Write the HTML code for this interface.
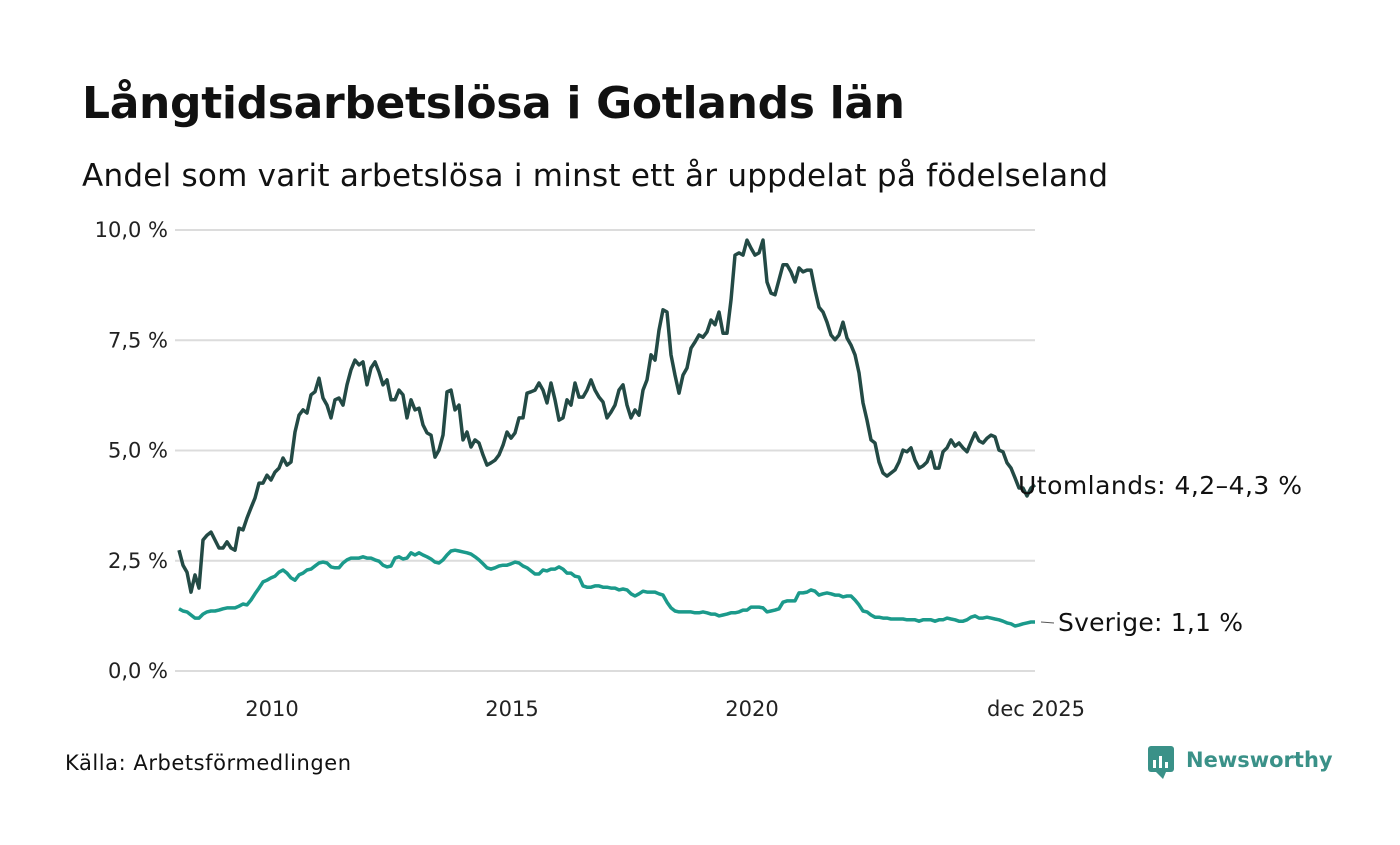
<!DOCTYPE html>
<html><head><meta charset="utf-8"><style>
body{margin:0;background:#fff;font-family:"Liberation Sans","DejaVu Sans",sans-serif;}
svg text{font-family:"DejaVu Sans","Liberation Sans",sans-serif;}
</style></head><body>
<svg id="c" width="1400" height="840" viewBox="0 0 1400 840">
<text x="82" y="118" font-size="44" font-weight="bold" fill="#111" textLength="823">Långtidsarbetslösa i Gotlands län</text>
<text x="82" y="186" font-size="31" fill="#111" textLength="1026">Andel som varit arbetslösa i minst ett år uppdelat på födelseland</text>
<g id="grid"></g>
<g id="series"></g>
<text x="65" y="770" font-size="21" fill="#111" textLength="286">Källa: Arbetsförmedlingen</text>
<g>
<rect x="1148" y="746" width="26" height="26" rx="3" fill="#3a9188"/>
<path d="M1156 772 L1163 779 L1166 772 Z" fill="#3a9188"/>
<rect x="1153" y="760" width="3" height="8" fill="#fff"/><rect x="1159" y="756" width="3" height="12" fill="#fff"/><rect x="1165" y="762" width="3" height="6" fill="#fff"/>
<text x="1186" y="767" font-size="21" font-weight="bold" fill="#3a9188">Newsworthy</text>
</g>
</svg>
<script>
const yTicks=[0,2.5,5,7.5,10];
const yTickLabels=["0,0 %","2,5 %","5,0 %","7,5 %","10,0 %"];
const xTicks=[2010,2015,2020,2025.917];
const xTickLabels=["2010","2015","2020","dec 2025"];
const startYear=2008;
const utomlands=[2.74,2.40,2.24,1.79,2.18,1.88,2.97,3.08,3.15,2.97,2.79,2.79,2.93,2.79,2.74,3.24,3.20,3.47,3.70,3.92,4.26,4.26,4.44,4.33,4.51,4.60,4.83,4.67,4.74,5.42,5.80,5.92,5.85,6.26,6.33,6.64,6.19,6.03,5.74,6.15,6.19,6.03,6.49,6.83,7.05,6.94,7.01,6.49,6.87,7.01,6.78,6.49,6.60,6.15,6.15,6.37,6.26,5.74,6.15,5.92,5.96,5.58,5.40,5.35,4.85,5.01,5.35,6.33,6.37,5.92,6.03,5.24,5.42,5.08,5.24,5.17,4.90,4.67,4.72,4.78,4.90,5.12,5.42,5.28,5.40,5.74,5.74,6.30,6.33,6.37,6.53,6.37,6.08,6.53,6.15,5.69,5.74,6.15,6.03,6.53,6.21,6.21,6.37,6.60,6.37,6.21,6.10,5.74,5.87,6.03,6.37,6.49,6.03,5.74,5.92,5.80,6.37,6.60,7.17,7.05,7.73,8.19,8.14,7.17,6.71,6.30,6.71,6.87,7.32,7.46,7.62,7.57,7.69,7.96,7.85,8.14,7.66,7.66,8.41,9.43,9.48,9.43,9.77,9.59,9.43,9.48,9.77,8.82,8.57,8.53,8.87,9.21,9.21,9.05,8.82,9.14,9.05,9.09,9.09,8.64,8.25,8.14,7.91,7.62,7.51,7.62,7.91,7.55,7.39,7.17,6.76,6.08,5.69,5.24,5.17,4.74,4.49,4.42,4.49,4.56,4.74,5.01,4.97,5.06,4.78,4.60,4.65,4.74,4.97,4.60,4.60,4.97,5.06,5.24,5.10,5.17,5.06,4.97,5.19,5.40,5.22,5.17,5.28,5.35,5.31,5.01,4.97,4.72,4.60,4.38,4.15,4.15,3.97,4.15,4.22];
const sverige=[1.41,1.36,1.34,1.27,1.20,1.20,1.29,1.34,1.36,1.36,1.38,1.41,1.43,1.43,1.43,1.47,1.52,1.50,1.61,1.75,1.88,2.02,2.06,2.11,2.15,2.24,2.29,2.22,2.11,2.06,2.18,2.22,2.29,2.31,2.38,2.45,2.47,2.45,2.36,2.34,2.34,2.45,2.52,2.56,2.56,2.56,2.59,2.56,2.56,2.52,2.49,2.40,2.36,2.38,2.56,2.59,2.54,2.56,2.68,2.63,2.68,2.63,2.59,2.54,2.47,2.45,2.52,2.63,2.72,2.74,2.72,2.70,2.68,2.65,2.59,2.52,2.43,2.34,2.31,2.34,2.38,2.40,2.40,2.43,2.47,2.45,2.38,2.34,2.27,2.20,2.20,2.29,2.27,2.31,2.31,2.36,2.31,2.22,2.22,2.15,2.13,1.93,1.90,1.90,1.93,1.93,1.90,1.90,1.88,1.88,1.84,1.86,1.84,1.75,1.70,1.75,1.81,1.79,1.79,1.79,1.75,1.72,1.56,1.43,1.36,1.34,1.34,1.34,1.34,1.32,1.32,1.34,1.32,1.29,1.29,1.25,1.27,1.29,1.32,1.32,1.34,1.38,1.38,1.45,1.45,1.45,1.43,1.34,1.36,1.38,1.41,1.56,1.59,1.59,1.59,1.77,1.77,1.79,1.84,1.81,1.72,1.75,1.77,1.75,1.72,1.72,1.68,1.70,1.70,1.61,1.50,1.36,1.34,1.27,1.22,1.22,1.20,1.20,1.18,1.18,1.18,1.18,1.16,1.16,1.16,1.13,1.16,1.16,1.16,1.13,1.16,1.16,1.20,1.18,1.16,1.13,1.13,1.16,1.22,1.25,1.20,1.20,1.22,1.20,1.18,1.16,1.13,1.09,1.07,1.02,1.04,1.07,1.09,1.11,1.11];
const NS="http://www.w3.org/2000/svg";
const x=t=>275+(t-2010)*48;
const y=v=>671-v*44.1;
const tIdx=i=>startYear+i/12;
const grid=document.getElementById('grid'),ser=document.getElementById('series');
function mk(tag,at,parent){const e=document.createElementNS(NS,tag);for(const k in at)e.setAttribute(k,at[k]);parent.appendChild(e);return e;}
yTicks.forEach((v,i)=>{
  const l=mk('line',{x1:175,x2:1035,y1:y(v),y2:y(v),stroke:'#dcdcdc','stroke-width':2},grid);
  
  
  const t=mk('text',{x:168,y:y(v)+7,'font-size':21,'text-anchor':'end',fill:'#222'},grid);
  t.textContent=yTickLabels[i];
  
  
});
xTicks.forEach((v,i)=>{
  const t=mk('text',{x:x(v)-3,y:716,'font-size':21,'text-anchor':'middle',fill:'#222'},grid);
  t.textContent=xTickLabels[i];
  
  
});
function line(arr,color,name){
  const d=arr.map((v,i)=>(i?'L':'M')+x(tIdx(i)).toFixed(1)+' '+y(v).toFixed(1)).join(' ');
  const p=mk('path',{d:d,fill:'none',stroke:color,'stroke-width':3.5,'stroke-linejoin':'round'},ser);
  
  
}
line(sverige,'#1b9a8b','sverige-line');
line(utomlands,'#234a45','utomlands-line');
const lastU=utomlands[utomlands.length-1],lastS=sverige[sverige.length-1];
const lu=mk('text',{x:1018,y:y(lastU)+9,'font-size':25,fill:'#111',textLength:284},ser);
lu.textContent='Utomlands: 4,2–4,3 %';


mk('line',{x1:1041,x2:1054,y1:y(lastS),y2:y(lastS)+1,stroke:'#555','stroke-width':1},ser);
const ls=mk('text',{x:1058,y:y(lastS)+9,'font-size':25,fill:'#111',textLength:185},ser);
ls.textContent='Sverige: 1,1 %';


</script>
</body></html>
